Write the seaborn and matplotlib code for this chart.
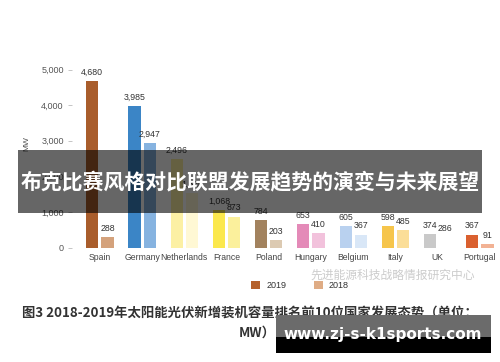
import matplotlib
matplotlib.use("Agg")
import matplotlib.pyplot as plt
from matplotlib.patches import Patch, Rectangle
import pandas as pd
import seaborn as sns

countries = ["Spain", "Germany", "Netherlands", "France", "Poland",
             "Hungary", "Belgium", "Italy", "UK", "Portugal"]
mw_2019 = [4680, 3985, 2496, 1068, 784, 653, 605, 598, 374, 367]
mw_2018 = [288, 2947, 1520, 873, 203, 410, 367, 485, 286, 91]
colors_2019 = ["#a95d2c", "#3b85c6", "#fcf0a4", "#fbe84c", "#a2825e",
               "#e48ab8", "#b9d1ef", "#f6c54b", "#c9c9c9", "#da602f"]
colors_2018 = ["#d4a27c", "#86b3e0", "#fff8d4", "#fbf09c", "#dccab2",
               "#f2c2dc", "#d9e7f7", "#fbde98", "#ffffff", "#f2b294"]
years = ["2019", "2018"]
yticks = [0, 1000, 2000, 3000, 4000, 5000]

caption_1 = "图3 2018-2019年太阳能光伏新增装机容量排名前10位国家发展态势（单位："
caption_2 = "MW）"
banner = "布克比赛风格对比联盟发展趋势的演变与未来展望"
source = "先进能源科技战略情报研究中心"
site = "www.zj-s-k1sports.com"

CJK = ["Noto Sans CJK SC", "DejaVu Sans"]

sns.set_theme(style="white")
plt.rcParams["font.family"] = ["Liberation Sans", "Noto Sans CJK SC"]

df = pd.DataFrame({
    "country": countries * 2,
    "year": [years[0]] * len(countries) + [years[1]] * len(countries),
    "mw": mw_2019 + mw_2018,
})

fig = plt.figure(figsize=(5, 3.62), dpi=100)
ax = fig.add_axes([0.144, 0.316, 0.852, 0.5765])

sns.barplot(data=df, x="country", y="mw", hue="year", order=countries,
            hue_order=years, width=0.72, gap=0.2, ax=ax, legend=False,
            errorbar=None, saturation=1)

for cont, cols in zip(ax.containers, [colors_2019, colors_2018]):
    for bar, c in zip(cont, cols):
        bar.set_facecolor(c)
        bar.set_edgecolor("none")
    ax.bar_label(cont, labels=[f"{v:,.0f}" for v in cont.datavalues],
                 fontsize=6.3, color="#333333", padding=3)

ax.set_xlim(-0.66, 9.43)
ax.set_ylim(0, 5860)
ax.set_yticks(yticks)
ax.set_yticklabels([f"{v:,}" for v in yticks])
ax.set_xlabel("")
ax.set_ylabel("MW", fontsize=6, color="#555555", labelpad=8)
ax.tick_params(axis="y", labelsize=6.5, labelcolor="#555555", length=3,
               width=0.6, color="#bbbbbb", direction="out", pad=3, left=True)
ax.tick_params(axis="x", labelsize=6.2, labelcolor="#444444", length=0, pad=4)
for s in ax.spines.values():
    s.set_visible(False)
ax.set_facecolor("none")

handles = [Patch(facecolor="#b5612c", edgecolor="none", label="2019"),
           Patch(facecolor="#dfac85", edgecolor="none", label="2018")]
fig.legend(handles=handles, loc="center", bbox_to_anchor=(0.6, 0.211),
           ncol=2, frameon=False, fontsize=6.5, handlelength=1.0,
           handleheight=1.0, columnspacing=3.0, handletextpad=0.7,
           labelcolor="#333333")

fig.text(0.786, 0.24, source, family=CJK, fontsize=8.5, color="#cccccc",
         ha="center", va="center")

fig.text(0.5, 0.135, caption_1, family=CJK, fontsize=9.6, fontweight="bold",
         color="#333333", ha="center", va="center")
fig.text(0.514, 0.08, caption_2, family=CJK, fontsize=9.6, fontweight="bold",
         color="#333333", ha="center", va="center")

# overlay banner across the middle of the chart
fig.patches.append(Rectangle((0.036, 1 - 213 / 362), 0.928, 63 / 362,
                             transform=fig.transFigure, facecolor="black",
                             alpha=0.6, edgecolor="none", zorder=5))
fig.text(0.5, 1 - 183 / 362, banner, family=CJK, fontsize=15,
         fontweight="bold", color="white", ha="center", va="center", zorder=6)

# site watermark in the lower right
fig.patches.append(Rectangle((0.552, 1 - 337 / 362), 0.43, 22 / 362,
                             transform=fig.transFigure, facecolor="#6b6b6b",
                             edgecolor="none", zorder=5))
fig.patches.append(Rectangle((0.552, 1 - 353 / 362), 0.43, 16 / 362,
                             transform=fig.transFigure, facecolor="black",
                             edgecolor="none", zorder=5))
fig.text(0.766, 1 - 335 / 362, site, fontsize=11, fontweight="bold",
         family="DejaVu Sans", color="white", ha="center", va="center",
         zorder=6)

fig.savefig("out.png", dpi=100)
